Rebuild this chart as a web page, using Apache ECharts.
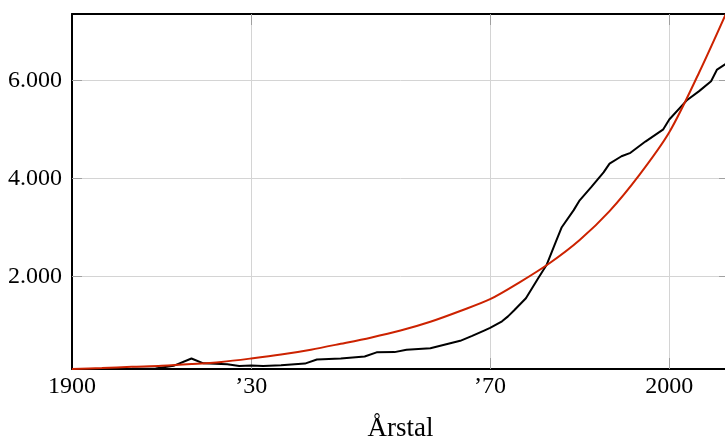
<!DOCTYPE html>
<html>
<head>
<meta charset="utf-8">
<script src="https://cdn.jsdelivr.net/npm/echarts@6/dist/echarts.min.js"></script>
<style>
html,body{margin:0;padding:0;background:#fff;overflow:hidden;width:725px;height:447px;}
#chart{width:730px;height:447px;}
</style>
</head>
<body>
<div id="chart"></div>
<script>
// Observed series (black)
var observedYears = [1900,1905,1910,1914,1917,1920,1922,1924,1926,1928,1930,1932,1935,1939,1941,1945,1949,1951,1954,1956,1960,1963,1965,1967,1969,1970,1972,1973,1974,1976,1978,1979.5,1981,1982,1984,1985,1987,1989,1990,1992,1993.5,1996,1999,2000,2003,2005,2007,2008,2009.4];
var observedValues = [105,105,108,115,170,320,220,210,200,165,175,165,180,215,300,320,360,445,450,500,530,620,680,780,890,945,1080,1180,1300,1550,1950,2240,2700,3000,3350,3550,3830,4120,4300,4450,4520,4750,5000,5200,5600,5780,5980,6220,6330];
// Fitted series (red)
var fitYears = [1900,1905,1910,1915,1920,1925,1930,1935,1940,1945,1950,1955,1960,1965,1970,1975,1980,1985,1990,1995,2000,2005,2010];
var fitValues = [105,125,150,170,205,250,320,400,500,620,745,890,1070,1290,1530,1880,2270,2740,3330,4070,4940,6160,7500];
// Axis ticks
var xTickValues = [1900,1930,1970,2000];
var xTickLabels = ['1900','\u201930','\u201970','2000'];
var yTickValues = [2000,4000,6000];
var yTickLabels = ['2.000','4.000','6.000'];
var xMin = 1900, xMax = 2010;
var yMin = 105, yMax = 7355;

function pairs(xs, ys){ return xs.map(function(x,i){ return [x, ys[i]]; }); }

var FONT = '"Liberation Serif", serif';
var chart = echarts.init(document.getElementById('chart'), null, {renderer:'canvas'});
var gridColor = '#d4d4d4';
var tickColor = '#a0a0a0';

chart.setOption({
  animation:false,
  backgroundColor:'#fff',
  grid:{left:72, top:14, right:1, bottom:77.5, containLabel:false},
  xAxis:[{
    type:'value', min:xMin, max:xMax, position:'bottom',
    name:'Årstal', nameLocation:'middle', nameGap:46,
    nameTextStyle:{fontFamily:FONT, fontSize:27, color:'#000'},
    axisLine:{onZero:false, lineStyle:{color:'#000', width:2}},
    axisTick:{show:true, inside:true, length:11, customValues:xTickValues.slice(1), lineStyle:{color:tickColor, width:1}},
    axisLabel:{customValues:xTickValues, margin:6, fontFamily:FONT, fontSize:24, color:'#000',
      formatter:function(v){ var i = xTickValues.indexOf(v); return i>=0 ? xTickLabels[i] : ''; }},
    splitLine:{show:true, customValues:xTickValues.slice(1), lineStyle:{color:gridColor, width:1}}
  },{
    type:'value', min:xMin, max:xMax, position:'top',
    axisLine:{onZero:false, lineStyle:{color:'#000', width:2}},
    axisTick:{show:true, inside:true, length:11, customValues:xTickValues.slice(1), lineStyle:{color:tickColor, width:1}},
    axisLabel:{show:false},
    splitLine:{show:false}
  }],
  yAxis:[{
    type:'value', min:yMin, max:yMax, position:'left',
    axisLine:{show:true, onZero:false, lineStyle:{color:'#000', width:2}},
    axisTick:{show:true, inside:true, length:10, customValues:yTickValues, lineStyle:{color:tickColor, width:1}},
    axisLabel:{customValues:yTickValues, margin:10, fontFamily:FONT, fontSize:24, color:'#000',
      formatter:function(v){ var i = yTickValues.indexOf(v); return i>=0 ? yTickLabels[i] : ''; }},
    splitLine:{show:true, customValues:yTickValues, lineStyle:{color:gridColor, width:1}}
  },{
    type:'value', min:yMin, max:yMax, position:'right',
    axisLine:{show:true, onZero:false, lineStyle:{color:'#000', width:2}},
    axisTick:{show:true, inside:true, length:10, customValues:yTickValues, lineStyle:{color:tickColor, width:1}},
    axisLabel:{show:false},
    splitLine:{show:false}
  }],
  series:[{
    type:'line', name:'observed', data:pairs(observedYears, observedValues),
    showSymbol:false, symbol:'none', smooth:false, clip:true,
    lineStyle:{color:'#000', width:2}, z:3
  },{
    type:'line', name:'fit', data:pairs(fitYears, fitValues),
    showSymbol:false, symbol:'none', smooth:0.3, clip:true,
    lineStyle:{color:'#cc2200', width:2}, z:4
  }]
});
</script>
</body>
</html>
